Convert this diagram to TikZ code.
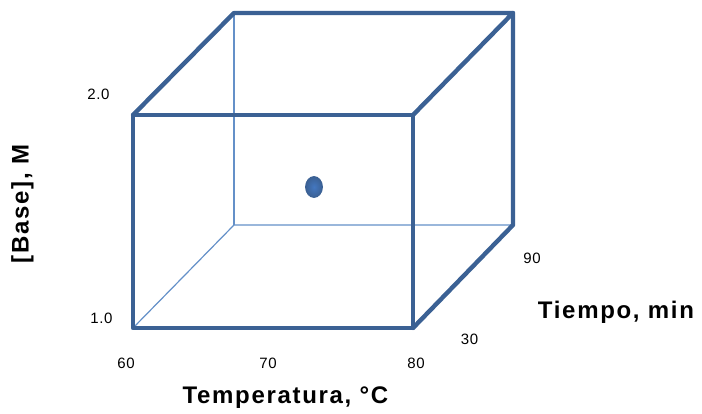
\documentclass[tikz,border=0pt]{standalone}
\usepackage{fontspec}
\setmainfont{Liberation Sans}
\usetikzlibrary{shapes.geometric}
\definecolor{cedge}{HTML}{3B6194}
\definecolor{cthin}{HTML}{6490C8}
\definecolor{cdot}{HTML}{4377C0}
\tikzset{
  every picture/.style={line join=round},
  edge/.style={draw=cedge, line width=4.4pt, line cap=round},
  hidden/.style={draw=cthin, line width=1.2pt},
  tick/.style={font=\fontsize{15}{15}\selectfont\addfontfeatures{LetterSpace=4}, inner sep=0pt},
  axis/.style={font=\fontsize{24}{24}\selectfont\bfseries\addfontfeatures{LetterSpace=7}, inner sep=0pt},
}
\begin{document}
\begin{tikzpicture}[x=1pt, y=-1pt]
  \useasboundingbox (0,0) rectangle (702,414);
  % front face
  \coordinate (f1) at (133,328); \coordinate (f2) at (413,328);
  \coordinate (f3) at (413,115); \coordinate (f4) at (133,115);
  % back face
  \coordinate (b1) at (234,225); \coordinate (b2) at (513,225);
  \coordinate (b3) at (513,13);  \coordinate (b4) at (234,13);
  % hidden edges
  \draw[hidden] (f1) -- (b1) -- (b2);
  \draw[hidden] (b1) -- (b4);
  % visible edges
  \draw[edge] (f1) -- (f2) -- (f3) -- (f4) -- cycle;
  \draw[edge] (f4) -- (b4) -- (b3) -- (f3);
  \draw[edge] (b3) -- (b2) -- (f2);
  % centre point
  \node[ellipse, draw=cedge, line width=0.8pt, inner color=cdot, outer color=cedge,
    minimum width=17pt, minimum height=21pt, inner sep=0pt] (pt) at (314,187) {};
  % tick labels
  \node[tick] (t20) at (98.5,94) {2.0};
  \node[tick] (t10) at (101.5,318.5) {1.0};
  \node[tick] (t60) at (126,363) {60};
  \node[tick] (t70) at (268,363) {70};
  \node[tick] (t80) at (416,363) {80};
  \node[tick] (t30) at (469.5,339) {30};
  \node[tick] (t90) at (532,258) {90};
  % axis titles
  \node[axis] (xlab) at (285.5,397.5) {Temperatura, °C};
  \node[axis] (zlab) at (616,312) {Tiempo, min};
  \node[axis, rotate=90] (ylab) at (22.5,204) {[Base], M};
\end{tikzpicture}
\end{document}
